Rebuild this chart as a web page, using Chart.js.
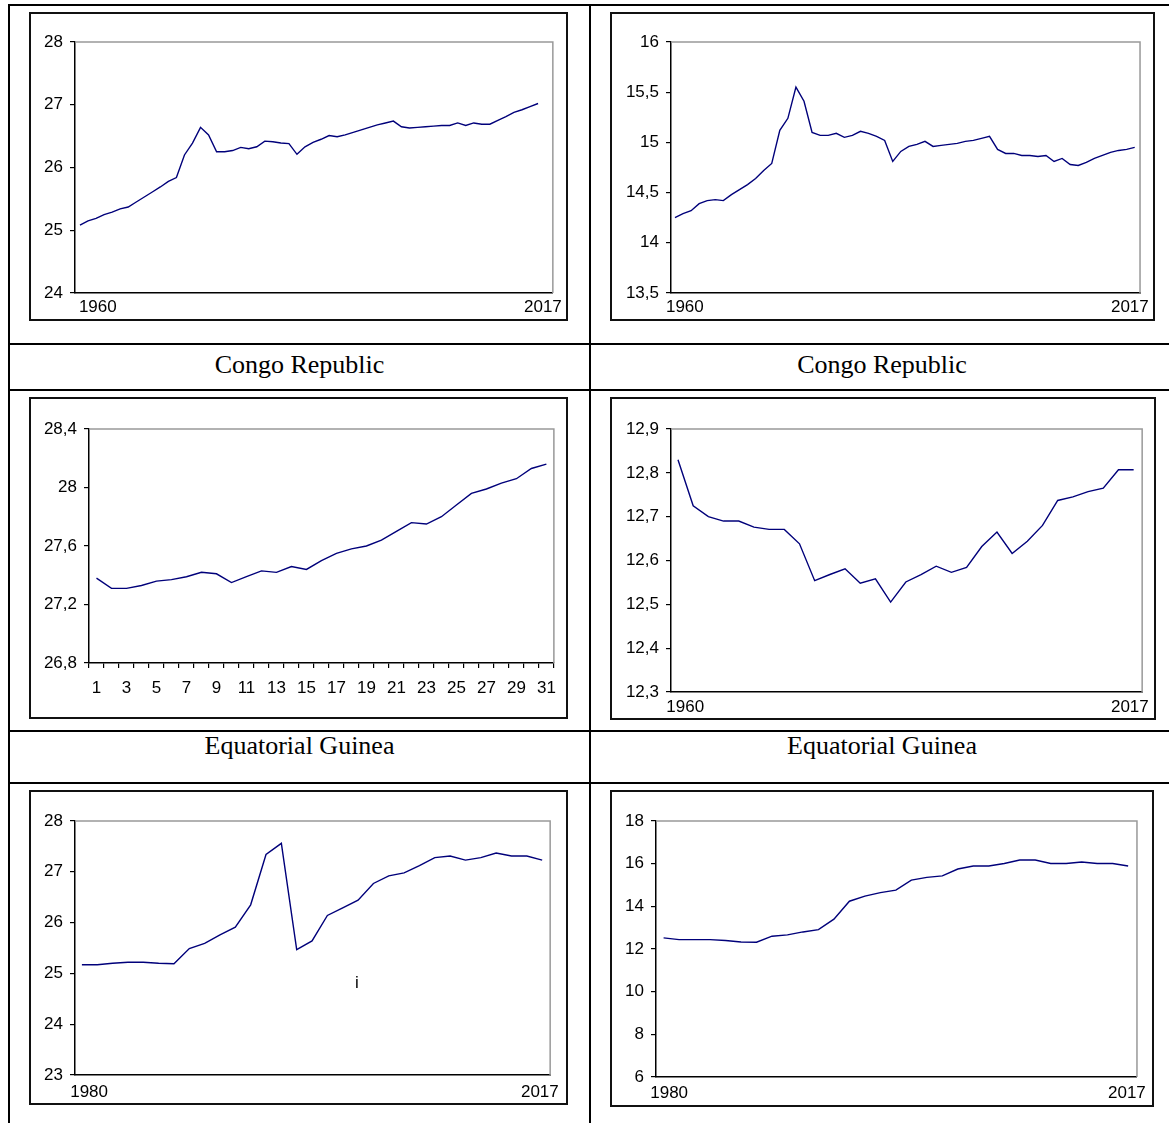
<!DOCTYPE html>
<html>
<head>
<meta charset="utf-8">
<title>Panels</title>
<script src="https://cdn.jsdelivr.net/npm/chart.js@4.4.1/dist/chart.umd.min.js"></script>
<style>
  html, body { margin: 0; padding: 0; background: #fff; }
  body { width: 1169px; height: 1123px; position: relative; overflow: hidden; }
  .hl { position: absolute; left: 8px; width: 1170px; height: 2px; background: #000; }
  .vl { position: absolute; top: 4px; width: 2px; height: 1130px; background: #000; }
  .box { position: absolute; border: 2px solid #111; box-sizing: border-box; }
  .box canvas { display: block; }
  .cap { position: absolute; text-align: center; font-family: "Liberation Serif", "Times New Roman", serif;
         font-size: 26px; line-height: 26px; color: #000; white-space: nowrap; }
  .note { position: absolute; font-family: "Liberation Sans", Arial, sans-serif;
          font-size: 17px; line-height: 17px; }
</style>
</head>
<body>

<div class="hl" style="top:4px"></div>
<div class="hl" style="top:343px"></div>
<div class="hl" style="top:389px"></div>
<div class="hl" style="top:730px"></div>
<div class="hl" style="top:782px"></div>
<div class="vl" style="left:8px"></div>
<div class="vl" style="left:589px"></div>

<div class="box" style="left:29px;top:12px;width:539px;height:309px"><canvas id="c1" width="535" height="305"></canvas></div>
<div class="box" style="left:610px;top:12px;width:545px;height:309px"><canvas id="c2" width="541" height="305"></canvas></div>

<div class="cap" style="left:10px;width:579px;top:352px">Congo Republic</div>
<div class="cap" style="left:591px;width:582px;top:352px">Congo Republic</div>

<div class="box" style="left:29px;top:397px;width:539px;height:322px"><canvas id="c3" width="535" height="318"></canvas></div>
<div class="box" style="left:610px;top:397px;width:546px;height:323px"><canvas id="c4" width="542" height="319"></canvas></div>

<div class="cap" style="left:10px;width:579px;top:733px">Equatorial Guinea</div>
<div class="cap" style="left:591px;width:582px;top:733px">Equatorial Guinea</div>

<div class="box" style="left:29px;top:790px;width:539px;height:315px"><canvas id="c5" width="535" height="311"></canvas></div>
<div class="box" style="left:610px;top:790px;width:544px;height:317px"><canvas id="c6" width="540" height="313"></canvas></div>

<span class="note" style="left:355px;top:974px">i</span>

<script>
// Congo Republic, 1960-2017
const congoA = [25.08, 25.15, 25.19, 25.25, 25.29, 25.34, 25.37, 25.45, 25.53, 25.61,
  25.69, 25.78, 25.84, 26.20, 26.39, 26.64, 26.52, 26.25, 26.25, 26.27,
  26.32, 26.30, 26.33, 26.42, 26.41, 26.39, 26.38, 26.21, 26.33, 26.40,
  26.45, 26.51, 26.49, 26.52, 26.56, 26.60, 26.64, 26.68, 26.71, 26.74,
  26.65, 26.63, 26.64, 26.65, 26.66, 26.67, 26.67, 26.71, 26.67, 26.71,
  26.69, 26.69, 26.75, 26.81, 26.88, 26.92, 26.97, 27.02];
const congoB = [14.25, 14.29, 14.32, 14.39, 14.42, 14.43, 14.42, 14.48, 14.53, 14.58,
  14.64, 14.72, 14.79, 15.12, 15.24, 15.55, 15.41, 15.10, 15.07, 15.07,
  15.09, 15.05, 15.07, 15.11, 15.09, 15.06, 15.02, 14.81, 14.91, 14.96,
  14.98, 15.01, 14.96, 14.97, 14.98, 14.99, 15.01, 15.02, 15.04, 15.06,
  14.93, 14.89, 14.89, 14.87, 14.87, 14.86, 14.87, 14.81, 14.84, 14.78,
  14.77, 14.80, 14.84, 14.87, 14.90, 14.92, 14.93, 14.95];

// Equatorial Guinea
const eqGuineaA = [27.38, 27.31, 27.31, 27.33, 27.36, 27.37, 27.39, 27.42, 27.41, 27.35,
  27.39, 27.43, 27.42, 27.46, 27.44, 27.50, 27.55, 27.58, 27.60, 27.64,
  27.70, 27.76, 27.75, 27.80, 27.88, 27.96, 27.99, 28.03, 28.06, 28.13, 28.16];
const eqGuineaB = [12.83, 12.725, 12.70, 12.69, 12.69, 12.676, 12.671, 12.671, 12.638, 12.554,
  12.568, 12.581, 12.548, 12.558, 12.505, 12.551, 12.568, 12.587, 12.573, 12.584,
  12.632, 12.665, 12.616, 12.644, 12.68, 12.737, 12.745, 12.757, 12.765, 12.807, 12.807];

// next country, 1980-2017
const nextA = [25.17, 25.17, 25.20, 25.22, 25.22, 25.20, 25.19, 25.49, 25.59, 25.76,
  25.91, 26.35, 27.34, 27.56, 25.47, 25.64, 26.14, 26.29, 26.44, 26.77,
  26.92, 26.98, 27.12, 27.28, 27.31, 27.23, 27.28, 27.37, 27.31, 27.31, 27.23];
const nextB = [12.52, 12.44, 12.44, 12.44, 12.40, 12.33, 12.32, 12.60, 12.66, 12.80,
  12.91, 13.40, 14.24, 14.48, 14.64, 14.76, 15.23, 15.36, 15.43, 15.75,
  15.89, 15.89, 16.01, 16.17, 16.17, 16.01, 16.01, 16.08, 16.01, 16.01, 15.89];

// tick labels
const labels1960 = ['1960', '2017'];
const labels1980 = ['1980', '2017'];
const indexLabels = ['1', '2', '3', '4', '5', '6', '7', '8', '9', '10', '11', '12', '13', '14', '15', '16',
  '17', '18', '19', '20', '21', '22', '23', '24', '25', '26', '27', '28', '29', '30', '31'];

const yTicksCongoA = [24, 25, 26, 27, 28];
const yTicksCongoB = [13.5, 14, 14.5, 15, 15.5, 16];
const yTicksEqA = [26.8, 27.2, 27.6, 28, 28.4];
const yTicksEqB = [12.3, 12.4, 12.5, 12.6, 12.7, 12.8, 12.9];
const yTicksNextA = [23, 24, 25, 26, 27, 28];
const yTicksNextB = [6, 8, 10, 12, 14, 16, 18];

Chart.defaults.font.family = '"Liberation Sans", Arial, sans-serif';
Chart.defaults.font.size = 17;
Chart.defaults.color = '#000';

// grey top/right edge of the plot area
const plotFrame = {
  id: 'plotFrame',
  beforeDatasetsDraw(chart) {
    const { ctx, chartArea: a } = chart;
    ctx.save();
    ctx.strokeStyle = '#999';
    ctx.lineWidth = 1.5;
    ctx.beginPath();
    ctx.moveTo(a.left, a.top);
    ctx.lineTo(a.right, a.top);
    ctx.lineTo(a.right, a.bottom);
    ctx.stroke();
    ctx.restore();
  }
};

function drawPanel(id, values, cfg) {
  let xScale;
  let points;
  if (cfg.categories) {
    points = values;
    xScale = {
      type: 'category',
      offset: true,
      grid: { offset: true, drawOnChartArea: false, drawTicks: true, tickLength: 5, color: '#000', lineWidth: 1.2 },
      border: { display: true, color: '#000', width: 1.5 },
      ticks: {
        autoSkip: false, maxRotation: 0, padding: cfg.xPad,
        callback: function (v, i) { return i % 2 === 0 ? this.getLabelForValue(v) : ''; }
      },
      afterFit: s => { s.height = cfg.xH; }
    };
  } else {
    points = values.map((v, i) => ({ x: i, y: v }));
    xScale = {
      type: 'linear',
      min: cfg.xMin, max: cfg.xMax,
      grid: { display: false, drawTicks: false },
      border: { display: true, color: '#000', width: 1.5 },
      afterBuildTicks: s => { s.ticks = cfg.xTickAt.map(v => ({ value: v })); },
      ticks: {
        autoSkip: false, maxRotation: 0, padding: cfg.xPad,
        callback: (v, i) => cfg.xLabels[i]
      },
      afterFit: s => { s.height = cfg.xH; }
    };
  }

  new Chart(document.getElementById(id), {
    type: 'line',
    data: {
      labels: cfg.categories,
      datasets: [{
        data: points,
        borderColor: '#00007a',
        borderWidth: 1.4,
        pointRadius: 0,
        tension: 0,
        fill: false
      }]
    },
    options: {
      responsive: false,
      animation: false,
      devicePixelRatio: 1,
      layout: { padding: { left: 0, top: cfg.top, right: cfg.right, bottom: 0 } },
      plugins: { legend: { display: false }, tooltip: { enabled: false } },
      scales: {
        x: xScale,
        y: {
          type: 'linear',
          min: cfg.yTicks[0],
          max: cfg.yTicks[cfg.yTicks.length - 1],
          afterBuildTicks: s => { s.ticks = cfg.yTicks.map(v => ({ value: v })); },
          grid: { drawOnChartArea: false, drawTicks: true, tickLength: 5, color: '#000', lineWidth: 1.2 },
          border: { display: true, color: '#000', width: 1.5 },
          ticks: { padding: 7, callback: v => String(v).replace('.', ',') },
          afterFit: s => { s.width = cfg.yW; }
        }
      }
    },
    plugins: [plotFrame]
  });
}

drawPanel('c1', congoA, { yTicks: yTicksCongoA, yW: 44, top: 28, right: 10, xH: 26,
  xMin: -0.62, xMax: 58.84, xTickAt: [2.22, 57.6], xLabels: labels1960, xPad: 4 });
drawPanel('c2', congoB, { yTicks: yTicksCongoB, yW: 59, top: 28, right: 10, xH: 26,
  xMin: -0.49, xMax: 57.66, xTickAt: [1.23, 56.4], xLabels: labels1960, xPad: 4 });
drawPanel('c3', eqGuineaA, { yTicks: yTicksEqA, yW: 58, top: 30, right: 10, xH: 54,
  categories: indexLabels, xPad: 10 });
drawPanel('c4', eqGuineaB, { yTicks: yTicksEqB, yW: 59, top: 30, right: 9, xH: 26,
  xMin: -0.46, xMax: 30.56, xTickAt: [0.48, 29.75], xLabels: labels1960, xPad: 5 });
drawPanel('c5', nextA, { yTicks: yTicksNextA, yW: 44, top: 29, right: 10, xH: 28,
  xMin: -0.45, xMax: 30.52, xTickAt: [0.47, 29.85], xLabels: labels1980, xPad: 7 });
drawPanel('c6', nextB, { yTicks: yTicksNextB, yW: 44, top: 29, right: 9, xH: 28,
  xMin: -0.49, xMax: 30.57, xTickAt: [0.36, 29.92], xLabels: labels1980, xPad: 6 });
</script>
</body>
</html>
